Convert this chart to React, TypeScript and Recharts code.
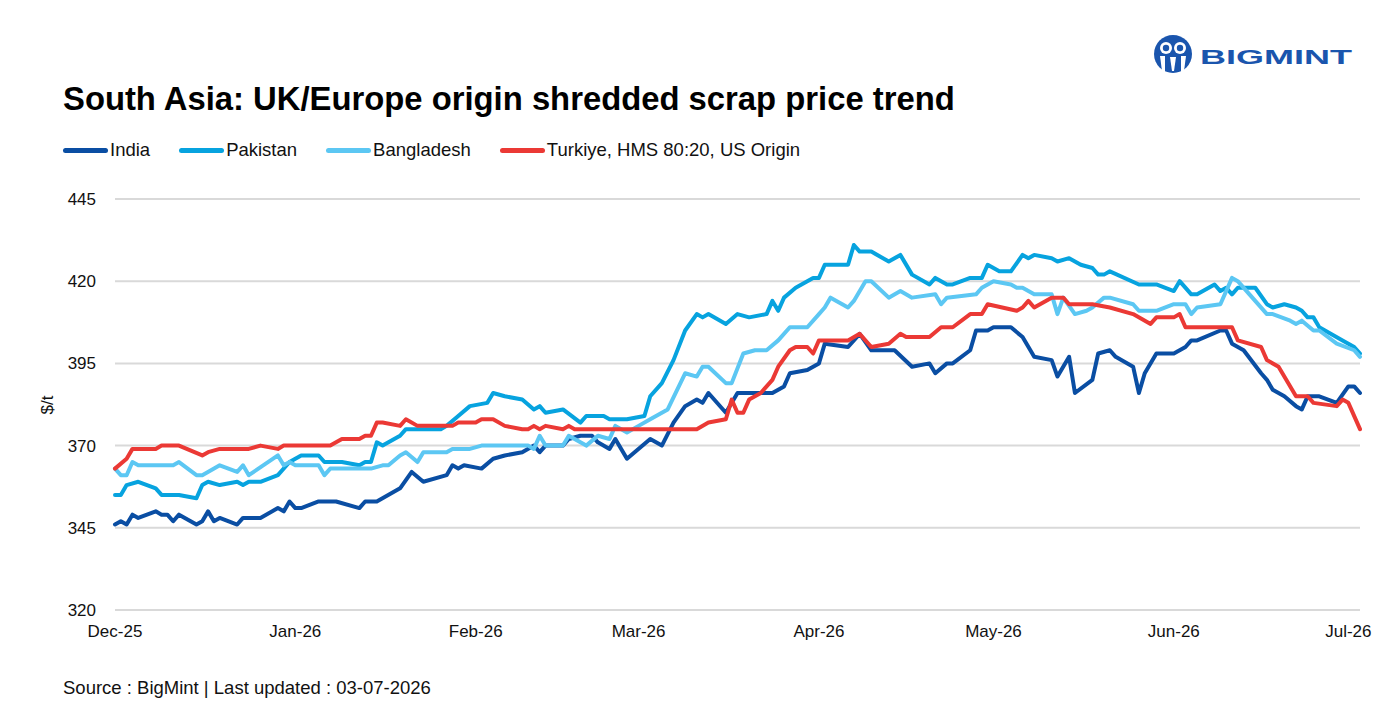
import React from 'react';
import { LineChart, Line, XAxis, YAxis, CartesianGrid } from 'recharts';

// x values are day offsets counted from 1 Dec 2025
const monthTicks = [0, 31, 62, 90, 121, 151, 182, 212];
const monthLabels = ['Dec-25', 'Jan-26', 'Feb-26', 'Mar-26', 'Apr-26', 'May-26', 'Jun-26', 'Jul-26'];
const priceTicks = [320, 345, 370, 395, 420, 445];

const indiaDays = [
  0, 1, 2, 3, 4, 7, 8, 9, 10, 11, 14, 15, 16, 17, 18, 21, 22, 25, 28, 29, 30, 31, 32, 35, 38, 42, 43, 45, 49, 51,
  53, 57, 58, 59, 60, 63, 65, 67, 70, 72, 73, 74, 77, 78, 80, 82, 83, 85, 86, 88, 92, 94, 96, 98, 100, 101, 102,
  105, 107, 113, 115, 116, 119, 121, 122, 126, 128, 130, 134, 137, 140, 141, 143, 144, 147, 148, 150, 151, 154,
  156, 158, 161, 162, 164, 165, 168, 169, 171, 172, 175, 176, 177, 179, 182, 184, 185, 186, 190, 191, 192, 194,
  197, 198, 199, 201, 203, 204, 205, 207, 210, 212, 213, 214,
];
const indiaPrices = [
  346, 347, 346, 349, 348, 350, 349, 349, 347, 349, 346, 347, 350, 347, 348, 346, 348, 348, 351, 350, 353, 351,
  351, 353, 353, 351, 353, 353, 357, 362, 359, 361, 364, 363, 364, 363, 366, 367, 368, 370, 368, 370, 370, 372,
  373, 373, 371, 369, 372, 366, 372, 370, 377, 382, 384, 383, 386, 380, 386, 386, 388, 392, 393, 395, 401, 400,
  404, 399, 399, 394, 395, 392, 395, 395, 399, 405, 405, 406, 406, 403, 397, 396, 391, 397, 386, 390, 398, 399,
  397, 394, 386, 392, 398, 398, 400, 402, 402, 405, 405, 401, 399, 392, 390, 387, 385, 382, 381, 385, 385, 383,
  388, 388, 386,
];

const pakistanDays = [
  0, 1, 2, 4, 7, 8, 11, 14, 15, 16, 18, 21, 22, 23, 25, 28, 30, 32, 35, 36, 39, 42, 43, 44, 45, 46, 49, 50, 52,
  53, 56, 57, 59, 61, 64, 65, 67, 70, 72, 73, 74, 77, 80, 81, 84, 85, 88, 91, 92, 94, 96, 98, 100, 101, 102, 105,
  107, 109, 112, 113, 114, 115, 117, 119, 120, 121, 122, 126, 127, 128, 130, 133, 135, 137, 140, 141, 143, 144,
  147, 149, 150, 152, 154, 156, 157, 158, 161, 162, 164, 166, 168, 169, 170, 171, 176, 179, 182, 183, 185, 186,
  189, 190, 191, 192, 193, 196, 198, 199, 201, 203, 204, 205, 206, 207, 211, 213, 214,
];
const pakistanPrices = [
  355, 355, 358, 359, 357, 355, 355, 354, 358, 359, 358, 359, 358, 359, 359, 361, 365, 367, 367, 365, 365, 364,
  365, 365, 371, 370, 373, 375, 375, 375, 375, 376, 379, 382, 383, 386, 385, 384, 381, 382, 380, 381, 377, 379,
  379, 378, 378, 379, 385, 389, 396, 405, 410, 409, 410, 407, 410, 409, 410, 414, 411, 415, 418, 420, 421, 421,
  425, 425, 431, 429, 429, 426, 428, 422, 419, 421, 419, 419, 421, 421, 425, 423, 423, 428, 427, 428, 427, 426,
  427, 425, 424, 422, 422, 423, 419, 419, 417, 420, 416, 416, 419, 417, 418, 416, 418, 418, 413, 412, 413, 412,
  411, 409, 409, 406, 402, 400, 398,
];

const bangladeshDays = [
  0, 1, 2, 3, 4, 10, 11, 14, 15, 18, 21, 22, 23, 28, 29, 30, 31, 35, 36, 37, 43, 44, 46, 47, 49, 50, 52, 53, 57,
  58, 61, 63, 71, 72, 73, 74, 77, 78, 81, 83, 85, 86, 88, 90, 92, 95, 98, 100, 101, 102, 105, 106, 108, 110, 112,
  114, 116, 119, 121, 122, 123, 126, 127, 129, 130, 133, 135, 137, 141, 142, 143, 148, 149, 151, 154, 155, 156,
  158, 161, 162, 163, 165, 167, 168, 170, 171, 175, 176, 179, 182, 184, 185, 186, 190, 192, 193, 195, 198, 199,
  202, 203, 204, 206, 207, 210, 213, 214,
];
const bangladeshPrices = [
  363, 361, 361, 365, 364, 364, 365, 361, 361, 364, 362, 364, 361, 367, 364, 365, 364, 364, 361, 363, 363, 363,
  364, 364, 367, 368, 365, 368, 368, 369, 369, 370, 370, 369, 373, 370, 370, 373, 370, 373, 372, 376, 374, 376,
  378, 381, 392, 391, 394, 394, 389, 389, 398, 399, 399, 402, 406, 406, 410, 412, 415, 412, 414, 420, 420, 415,
  417, 415, 416, 413, 415, 416, 418, 420, 419, 418, 418, 416, 416, 410, 415, 410, 411, 412, 415, 415, 413, 411,
  411, 413, 413, 410, 412, 413, 421, 420, 416, 410, 410, 408, 407, 408, 405, 405, 401, 399, 397,
];

const turkiyeDays = [
  0, 2, 3, 7, 8, 11, 15, 16, 18, 23, 25, 28, 29, 37, 39, 42, 43, 44, 45, 46, 49, 50, 52, 58, 59, 62, 63, 65, 67,
  70, 71, 72, 73, 74, 77, 78, 79, 100, 102, 105, 106, 107, 108, 109, 111, 113, 114, 116, 117, 119, 120, 121, 126,
  128, 130, 133, 135, 136, 140, 142, 144, 147, 149, 150, 155, 156, 157, 158, 161, 163, 164, 168, 171, 175, 178,
  179, 182, 183, 184, 192, 193, 197, 198, 200, 203, 205, 206, 210, 211, 212, 214,
];
const turkiyePrices = [
  363, 366, 369, 369, 370, 370, 367, 368, 369, 369, 370, 369, 370, 370, 372, 372, 373, 373, 377, 377, 376, 378,
  376, 376, 377, 377, 378, 378, 376, 375, 375, 376, 375, 376, 375, 376, 375, 375, 377, 378, 384, 380, 380, 384,
  386, 390, 394, 399, 400, 400, 398, 402, 402, 404, 400, 401, 404, 403, 403, 406, 406, 410, 410, 413, 411, 412,
  414, 412, 415, 415, 413, 413, 412, 410, 407, 409, 409, 410, 406, 406, 402, 400, 396, 394, 385, 385, 383, 382,
  384, 383, 375,
];

const series = [
  { name: 'India', color: '#0a4ea3', days: indiaDays, prices: indiaPrices },
  { name: 'Pakistan', color: '#07a3df', days: pakistanDays, prices: pakistanPrices },
  { name: 'Bangladesh', color: '#5cc7f3', days: bangladeshDays, prices: bangladeshPrices },
  { name: 'Turkiye, HMS 80:20, US Origin', color: '#eb3935', days: turkiyeDays, prices: turkiyePrices },
];

const toPoints = (days: number[], prices: number[]) => days.map((day, i) => ({ day, price: prices[i] }));

const FONT = '"Liberation Sans", Arial, Helvetica, sans-serif';
const LOGO_BLUE = '#1a55ad';

const Logo = () => (
  <svg width={220} height={48} style={{ position: 'absolute', left: 1150, top: 31 }}>
    <circle cx={23} cy={23} r={19} fill={LOGO_BLUE} />
    <circle cx={16} cy={17} r={6} fill="#fff" />
    <circle cx={30} cy={17} r={6} fill="#fff" />
    <circle cx={16} cy={17} r={3.2} fill={LOGO_BLUE} />
    <circle cx={30} cy={17} r={3.2} fill={LOGO_BLUE} />
    <path d="M10 25 L15 25 L15 40 L12 40 Z" fill="#fff" />
    <path d="M36 25 L31 25 L31 40 L34 40 Z" fill="#fff" />
    <path d="M20 26 L26 26 L24 40 L22 40 Z" fill="#fff" />
    <text
      x={50}
      y={33}
      fill={LOGO_BLUE}
      fontFamily={FONT}
      fontWeight={700}
      fontSize={20}
      textLength={152}
      lengthAdjust="spacingAndGlyphs"
    >
      BIGMINT
    </text>
  </svg>
);

export default function App() {
  return (
    <div
      style={{
        position: 'absolute',
        left: 0,
        top: 0,
        width: 1398,
        height: 708,
        background: '#fff',
        fontFamily: FONT,
        color: '#000',
      }}
    >
      <Logo />
      <div style={{ position: 'absolute', left: 63, top: 82, fontSize: 32.8, lineHeight: '33px', fontWeight: 700 }}>
        South Asia: UK/Europe origin shredded scrap price trend
      </div>

      <div style={{ position: 'absolute', left: 63, top: 140, display: 'flex', alignItems: 'center', height: 20 }}>
        {series.map((s) => (
          <div key={s.name} style={{ display: 'flex', alignItems: 'center', marginRight: 29 }}>
            <span
              style={{ width: 45, height: 5, borderRadius: 3, background: s.color, marginRight: 2, display: 'inline-block' }}
            />
            <span style={{ fontSize: 18.5, lineHeight: '20px', color: '#111' }}>{s.name}</span>
          </div>
        ))}
      </div>

      <div
        style={{
          position: 'absolute',
          left: 48,
          top: 405,
          fontSize: 17,
          transform: 'translate(-50%, -50%) rotate(-90deg)',
          color: '#111',
        }}
      >
        $/t
      </div>

      <div style={{ position: 'absolute', left: 0, top: 0 }}>
        <LineChart width={1398} height={660} margin={{ top: 199, right: 38, left: 0, bottom: 10 }}>
          <CartesianGrid vertical={false} stroke="#d9d9d9" strokeWidth={2} />
          <XAxis
            type="number"
            dataKey="day"
            domain={[0, 214]}
            ticks={monthTicks}
            interval={0}
            tickFormatter={(v: number) => monthLabels[monthTicks.indexOf(v)]}
            axisLine={false}
            tickLine={false}
            tickSize={0}
            tickMargin={15}
            height={40}
            tick={{ fill: '#111', fontSize: 17 }}
          />
          <YAxis
            type="number"
            domain={[320, 445]}
            ticks={priceTicks}
            interval={0}
            axisLine={false}
            tickLine={false}
            tickSize={0}
            tickMargin={19}
            width={115}
            tick={{ fill: '#111', fontSize: 17 }}
          />
          {series.map((s) => (
            <Line
              key={s.name}
              data={toPoints(s.days, s.prices)}
              dataKey="price"
              name={s.name}
              type="linear"
              stroke={s.color}
              strokeWidth={4}
              strokeLinejoin="round"
              strokeLinecap="round"
              dot={false}
              activeDot={false}
              isAnimationActive={false}
            />
          ))}
        </LineChart>
      </div>

      <div style={{ position: 'absolute', left: 63, top: 678, fontSize: 18.5, lineHeight: '20px', color: '#111' }}>
        Source : BigMint | Last updated : 03-07-2026
      </div>
    </div>
  );
}
